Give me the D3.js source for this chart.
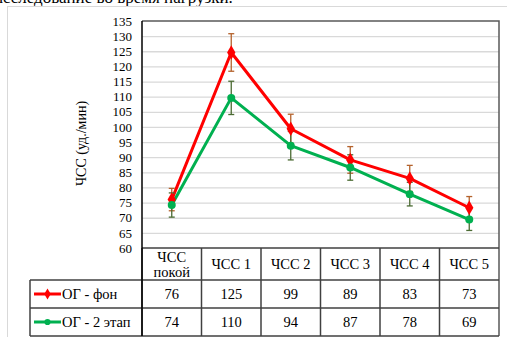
<!DOCTYPE html>
<html>
<head>
<meta charset="utf-8">
<script src="https://cdn.jsdelivr.net/npm/d3@7"></script>
<style>
  body { margin: 0; background: #fff; }
</style>
</head>
<body>
<div class="chart-container"></div>
<script>
// Categories (table header) and series values
const categories = ['ЧСС покой', 'ЧСС 1', 'ЧСС 2', 'ЧСС 3', 'ЧСС 4', 'ЧСС 5'];
const headerLines = [['ЧСС', 'покой'], ['ЧСС 1'], ['ЧСС 2'], ['ЧСС 3'], ['ЧСС 4'], ['ЧСС 5']];
const seriesNames = ['ОГ - фон', 'ОГ - 2 этап'];
const valuesFon = [76, 124.6, 99.4, 89.1, 83.0, 73.3];
const errorsFon = [3.7, 6.2, 4.8, 4.4, 4.3, 3.7];
const valuesEtap2 = [74.2, 109.6, 93.8, 86.6, 77.8, 69.4];
const errorsEtap2 = [4.0, 5.5, 4.7, 4.2, 3.9, 3.6];
const yTicks = d3.range(60, 136, 5);

const FONT = '"Liberation Serif", Tinos, "Times New Roman", "DejaVu Serif", serif';

const series = [
    { name: seriesNames[0], values: valuesFon, errors: errorsFon, color: '#ff0000', errColor: '#b4622c', marker: d3.symbolDiamond, size: 60 },
    { name: seriesNames[1], values: valuesEtap2, errors: errorsEtap2, color: '#00b050', errColor: '#4b6b33', marker: d3.symbolCircle, size: 50 },
];

const svg_width = 507;
const svg_height = 337;
const plot = { left: 142, right: 499, top: 21, bottom: 248 };
const rowH = [plot.bottom, 280, 308, 336];
const tableLeft = 30;

const svg = d3.select('.chart-container').append('svg')
    .attr('width', svg_width).attr('height', svg_height)
    .style('font-family', FONT);

const addText = (x, y, str, size) => svg.append('text')
    .attr('x', x).attr('y', y)
    .style('font-family', FONT).style('font-size', size + 'px').attr('fill', '#000')
    .text(str);

// cut-off document text above the chart
addText(-6, 3, 'исследование во время нагрузки.', 17);

// outer chart frame
svg.append('rect').attr('x', 7.5).attr('y', 6.5).attr('width', 520).attr('height', 360)
    .attr('fill', 'none').attr('stroke', '#d9d9d9').attr('stroke-width', 1);

// scales
const xScale = d3.scaleBand().domain(categories).range([plot.left, plot.right]);
const yScale = d3.scaleLinear().domain([60, 135]).range([plot.bottom, plot.top]);

// gridlines
svg.append('g').selectAll('line')
    .data(yTicks.filter(t => t > 60 && t < 135))
    .enter().append('line')
    .attr('x1', plot.left).attr('x2', plot.right)
    .attr('y1', d => yScale(d) + 0.5).attr('y2', d => yScale(d) + 0.5)
    .attr('stroke', '#d9d9d9').attr('stroke-width', 1.3);

// y axis
const yAxis = d3.axisLeft(yScale).tickValues(yTicks).tickSize(0).tickPadding(10);
const yAxisDraw = svg.append('g').attr('transform', `translate(${plot.left}, 0)`).call(yAxis);
yAxisDraw.select('.domain').remove();
yAxisDraw.attr('font-family', null).attr('font-size', null);
yAxisDraw.selectAll('text').style('font-size', '13px')
    .style('font-family', FONT).attr('fill', '#000');

// y title
svg.append('text')
    .attr('transform', `translate(86, ${(plot.top + plot.bottom) / 2 + 9}) rotate(-90)`)
    .attr('text-anchor', 'middle')
    .style('font-family', FONT).style('font-size', '14px')
    .text('ЧСС (уд./мин)');

// plot border (top, right)
svg.append('path')
    .attr('d', `M${plot.left},${plot.top}H${plot.right}V${rowH[3]}`)
    .attr('fill', 'none').attr('stroke', '#595959').attr('stroke-width', 1.5);

// table lines
const tableColor = '#404040';
const tbl = svg.append('g');
tbl.append('line').attr('x1', plot.left).attr('x2', plot.right)
    .attr('y1', rowH[0]).attr('y2', rowH[0]).attr('stroke', tableColor).attr('stroke-width', 1.5);
rowH.slice(1).forEach(y => {
    tbl.append('line').attr('x1', tableLeft).attr('x2', plot.right)
        .attr('y1', y).attr('y2', y).attr('stroke', tableColor).attr('stroke-width', 1.5);
});
categories.forEach(c => {
    tbl.append('line').attr('x1', xScale(c)).attr('x2', xScale(c))
        .attr('y1', rowH[0]).attr('y2', rowH[3]).attr('stroke', tableColor).attr('stroke-width', 1.5);
});
tbl.append('line').attr('x1', tableLeft).attr('x2', tableLeft)
    .attr('y1', rowH[1]).attr('y2', rowH[3]).attr('stroke', tableColor).attr('stroke-width', 1.5);
// left axis line
svg.append('line').attr('x1', plot.left).attr('x2', plot.left)
    .attr('y1', plot.top).attr('y2', rowH[3]).attr('stroke', '#000').attr('stroke-width', 1.5);

// header texts
headerLines.forEach((lines, i) => {
    const cx = xScale(categories[i]) + xScale.bandwidth() / 2;
    const cy = (rowH[0] + rowH[1]) / 2;
    const t = svg.append('text').attr('text-anchor', 'middle')
        .style('font-family', FONT).style('font-size', '14.5px');
    lines.forEach((l, j) => {
        t.append('tspan').attr('x', cx)
            .attr('y', cy + 5 + (j - (lines.length - 1) / 2) * 15)
            .text(l);
    });
});

// series rows
series.forEach((s, k) => {
    const cy = (rowH[k + 1] + rowH[k + 2]) / 2;
    // legend key
    svg.append('line').attr('x1', 34).attr('x2', 61).attr('y1', cy).attr('y2', cy)
        .attr('stroke', s.color).attr('stroke-width', 3);
    svg.append('path').attr('d', d3.symbol(s.marker, s.size * 0.6)())
        .attr('transform', `translate(47.5, ${cy})`).attr('fill', s.color);
    addText(62, cy + 5, s.name, 14.5);
    s.values.forEach((v, i) => {
        addText(xScale(categories[i]) + xScale.bandwidth() / 2, cy + 5, d3.format('.0f')(v), 14.5)
            .attr('text-anchor', 'middle');
    });
});

// lines, error bars and markers
const cx = (d, i) => xScale(categories[i]) + xScale.bandwidth() / 2;
const line = d3.line().x(cx).y(d => yScale(d));
series.forEach(s => {
    svg.append('path').datum(s.values).attr('d', line)
        .attr('fill', 'none').attr('stroke', s.color).attr('stroke-width', 3)
        .attr('stroke-linejoin', 'round');
});
series.forEach(s => {
    const g = svg.append('g');
    s.values.forEach((v, i) => {
        const x = cx(v, i);
        const y1 = yScale(v + s.errors[i]);
        const y2 = yScale(v - s.errors[i]);
        g.append('line').attr('x1', x).attr('x2', x).attr('y1', y1).attr('y2', y2)
            .attr('stroke', s.errColor).attr('stroke-width', 1.3);
        [y1, y2].forEach(y => {
            g.append('line').attr('x1', x - 3).attr('x2', x + 3).attr('y1', y).attr('y2', y)
                .attr('stroke', s.errColor).attr('stroke-width', 1.3);
        });
    });
});
series.forEach(s => {
    svg.append('g').selectAll('path').data(s.values).enter().append('path')
        .attr('d', d3.symbol(s.marker, s.size))
        .attr('transform', (d, i) => `translate(${cx(d, i)}, ${yScale(d)})`)
        .attr('fill', s.color);
});
</script>
</body>
</html>
